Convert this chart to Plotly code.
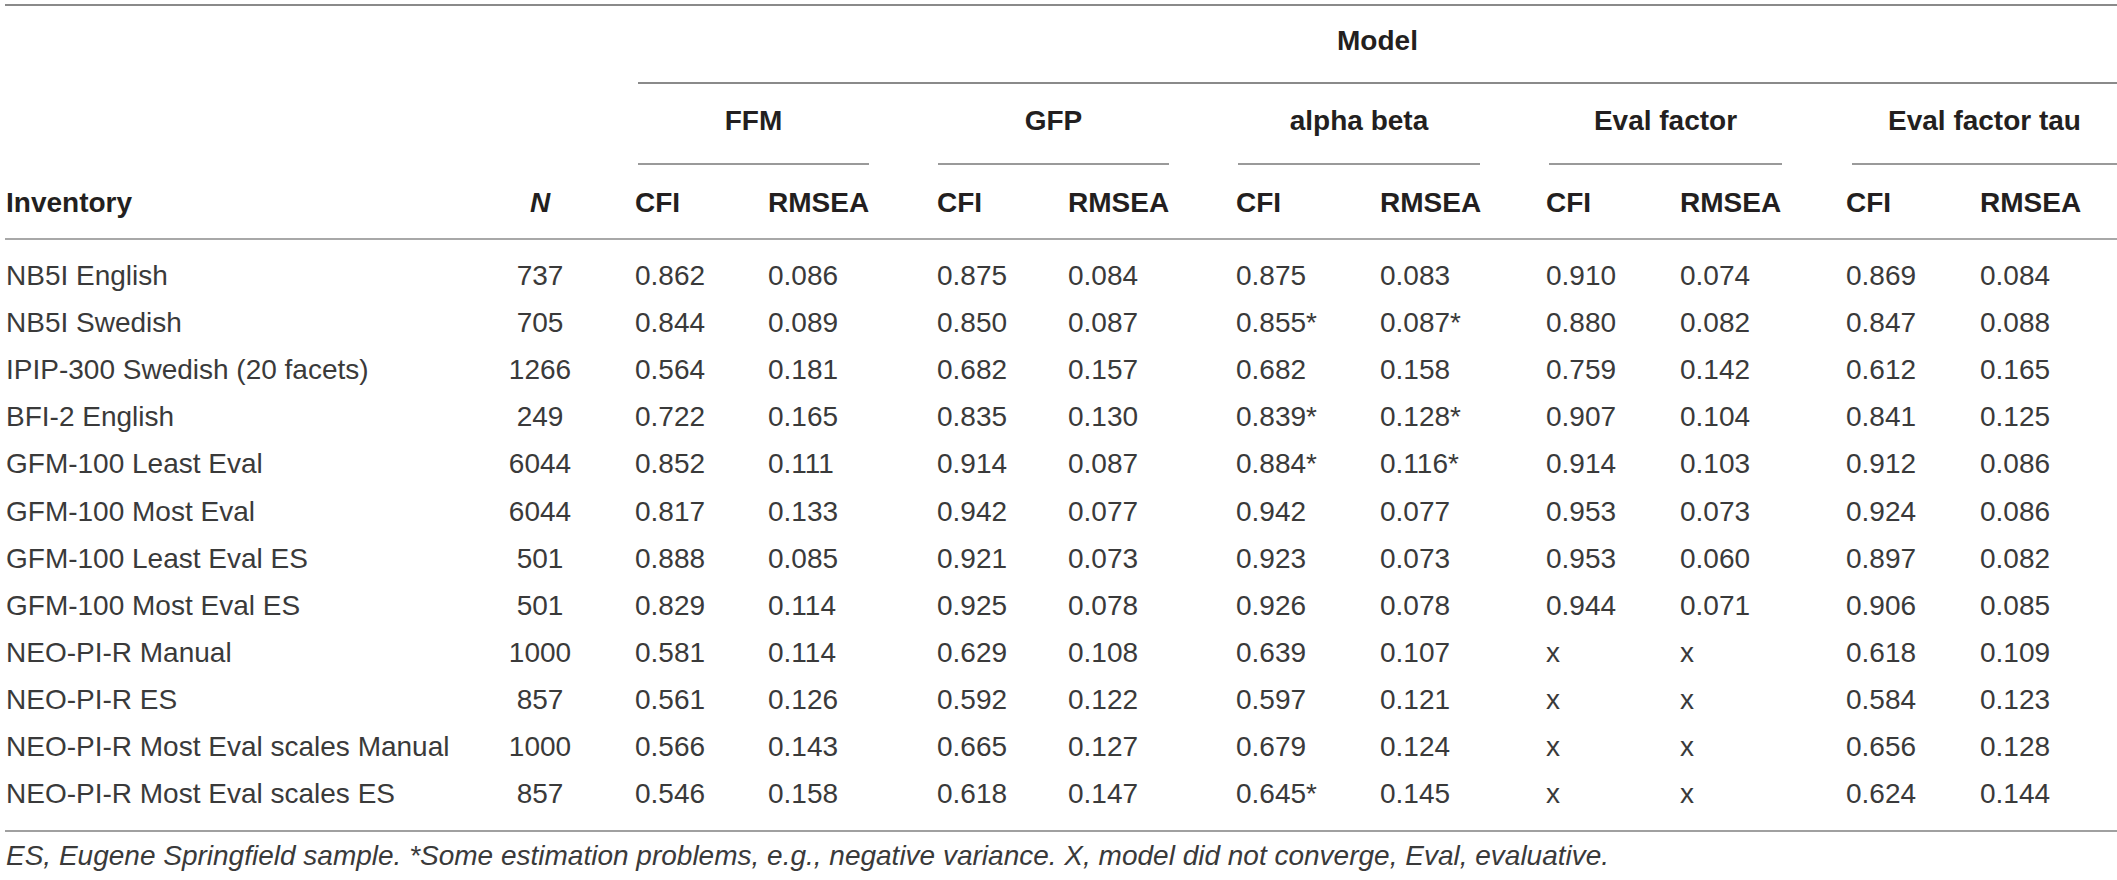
import plotly.graph_objects as go

# table values
inventories = [
    "NB5I English", "NB5I Swedish", "IPIP-300 Swedish (20 facets)", "BFI-2 English",
    "GFM-100 Least Eval", "GFM-100 Most Eval", "GFM-100 Least Eval ES", "GFM-100 Most Eval ES",
    "NEO-PI-R Manual", "NEO-PI-R ES", "NEO-PI-R Most Eval scales Manual", "NEO-PI-R Most Eval scales ES",
]
n_values = [737, 705, 1266, 249, 6044, 6044, 501, 501, 1000, 857, 1000, 857]

models = ["FFM", "GFP", "alpha beta", "Eval factor", "Eval factor tau"]
ffm_cfi = [0.862, 0.844, 0.564, 0.722, 0.852, 0.817, 0.888, 0.829, 0.581, 0.561, 0.566, 0.546]
ffm_rmsea = [0.086, 0.089, 0.181, 0.165, 0.111, 0.133, 0.085, 0.114, 0.114, 0.126, 0.143, 0.158]
gfp_cfi = [0.875, 0.850, 0.682, 0.835, 0.914, 0.942, 0.921, 0.925, 0.629, 0.592, 0.665, 0.618]
gfp_rmsea = [0.084, 0.087, 0.157, 0.130, 0.087, 0.077, 0.073, 0.078, 0.108, 0.122, 0.127, 0.147]
ab_cfi = [0.875, 0.855, 0.682, 0.839, 0.884, 0.942, 0.923, 0.926, 0.639, 0.597, 0.679, 0.645]
ab_rmsea = [0.083, 0.087, 0.158, 0.128, 0.116, 0.077, 0.073, 0.078, 0.107, 0.121, 0.124, 0.145]
eval_cfi = [0.910, 0.880, 0.759, 0.907, 0.914, 0.953, 0.953, 0.944, None, None, None, None]
eval_rmsea = [0.074, 0.082, 0.142, 0.104, 0.103, 0.073, 0.060, 0.071, None, None, None, None]
tau_cfi = [0.869, 0.847, 0.612, 0.841, 0.912, 0.924, 0.897, 0.906, 0.618, 0.584, 0.656, 0.624]
tau_rmsea = [0.084, 0.088, 0.165, 0.125, 0.086, 0.086, 0.082, 0.085, 0.109, 0.123, 0.128, 0.144]
# cells with estimation problems (marked with *)
ab_cfi_flag = [False, True, False, True, True, False, False, False, False, False, False, True]
ab_rmsea_flag = [False, True, False, True, True, False, False, False, False, False, False, False]

footnote = ("ES, Eugene Springfield sample. *Some estimation problems, e.g., negative variance. "
            "X, model did not converge, Eval, evaluative.")

# layout in page pixels
W, H = 2117, 880
left_x = 6
cfi_x = [635, 937, 1236, 1546, 1846]
rmsea_x = [768, 1068, 1380, 1680, 1980]
line_spans = [(638, 869), (938, 1169), (1238, 1480), (1549, 1782), (1852, 2117)]
row_y0, row_dy = 278, 47.1
rows_y = [row_y0 + i * row_dy for i in range(len(inventories))]

FONT = "Liberation Sans, Arial, sans-serif"
HEAD = "#231f20"
BODY = "#3a3a3a"
FS = 28


def fmt(vals, flags=None):
    out = []
    for i, v in enumerate(vals):
        s = "x" if v is None else f"{v:.3f}"
        if flags and flags[i]:
            s += "*"
        out.append(s)
    return out


fig = go.Figure()


def text_col(x, y, text, pos="middle right", color=BODY, size=FS):
    fig.add_trace(go.Scatter(
        x=[x] * len(text) if not isinstance(x, list) else x, y=y, text=text,
        mode="text", textposition=pos, hoverinfo="skip", showlegend=False,
        cliponaxis=False,
        textfont=dict(family=FONT, size=size, color=color),
    ))


# body
text_col(left_x, rows_y, inventories)
text_col(540, rows_y, [str(n) for n in n_values], pos="middle center")
cols = [
    (ffm_cfi, None, ffm_rmsea, None),
    (gfp_cfi, None, gfp_rmsea, None),
    (ab_cfi, ab_cfi_flag, ab_rmsea, ab_rmsea_flag),
    (eval_cfi, None, eval_rmsea, None),
    (tau_cfi, None, tau_rmsea, None),
]
for k, (c, cf, r, rf) in enumerate(cols):
    text_col(cfi_x[k], rows_y, fmt(c, cf))
    text_col(rmsea_x[k], rows_y, fmt(r, rf))

# header
head_y = 205
text_col(left_x, [head_y], ["<b>Inventory</b>"], color=HEAD)
text_col(540, [head_y], ["<b><i>N</i></b>"], pos="middle center", color=HEAD)
text_col(cfi_x, [head_y] * 5, ["<b>CFI</b>"] * 5, color=HEAD)
text_col(rmsea_x, [head_y] * 5, ["<b>RMSEA</b>"] * 5, color=HEAD)
text_col([(a + b) / 2 for a, b in line_spans], [123] * 5, [f"<b>{m}</b>" for m in models],
         pos="middle center", color=HEAD)
text_col([(line_spans[0][0] + W) / 2], [43], ["<b>Model</b>"], pos="middle center", color=HEAD)

# footnote
text_col(left_x, [858], [f"<i>{footnote}</i>"], color=BODY, size=28)


# rules
def rule(x0, x1, y, color="#9a9a9a", width=2):
    fig.add_shape(type="line", x0=x0, x1=x1, y0=y, y1=y, xref="x", yref="y",
                  line=dict(color=color, width=width))


rule(5, W, 5, color="#8a8a8a")
rule(line_spans[0][0], W, 83, color="#8a8a8a")
for a, b in line_spans:
    rule(a, b, 164)
rule(5, W, 239, color="#a8a8a8")
rule(5, W, 831, color="#a0a0a0")

fig.update_layout(
    width=W, height=H, margin=dict(l=0, r=0, t=0, b=0),
    paper_bgcolor="white", plot_bgcolor="white",
    xaxis=dict(range=[0, W], visible=False, fixedrange=True),
    yaxis=dict(range=[H, 0], visible=False, fixedrange=True),
)
# drop the browser's default 8px body margin so the figure sits at the page corner
fig.write_html("out.html", config={"displayModeBar": False},
               post_script="document.body.style.margin = '0';")
